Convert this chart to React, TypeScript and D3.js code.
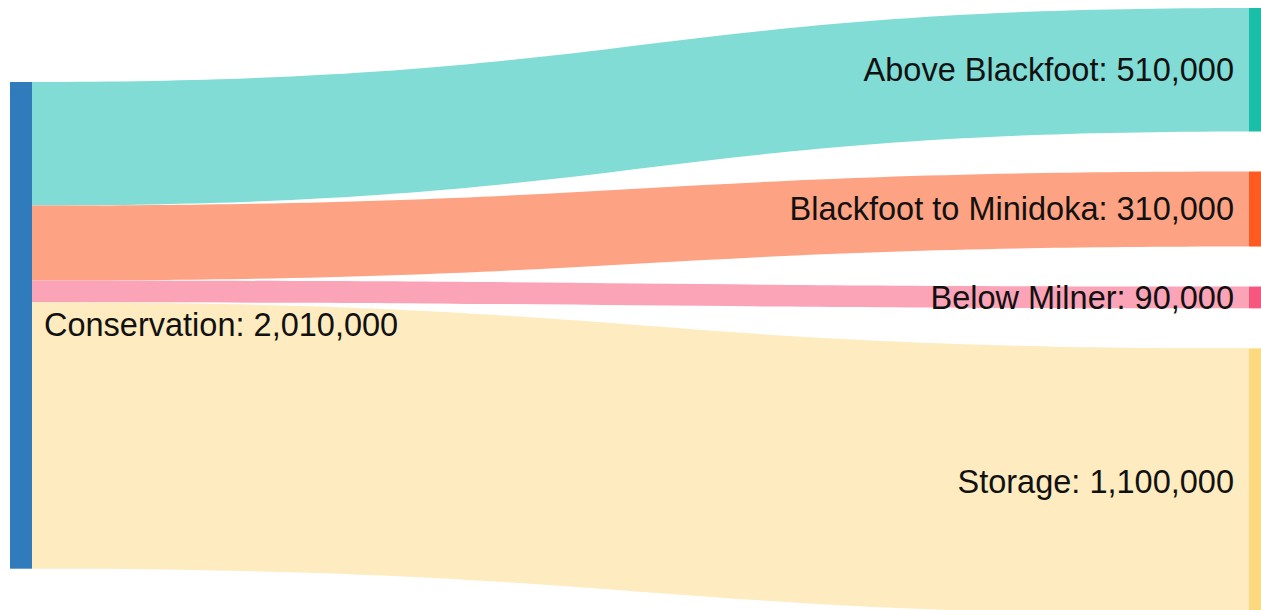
import React from "react";
import * as d3 from "d3";

const sourceName = "Conservation";
const targetNames = ["Above Blackfoot", "Blackfoot to Minidoka", "Below Milner", "Storage"];
const flowValues = [510000, 310000, 90000, 1100000];
const linkColors = ["#80dcd5", "#fda282", "#fba3b7", "#feebbf"];
const targetColors = ["#19bea9", "#ff5a1f", "#f7567f", "#fdd97e"];
const sourceColor = "#2f7bbb";

const W = 1261;
const H = 610;

export default function App() {
  const total = d3.sum(flowValues);
  const nodeW = 22;
  const gap = 40;
  const srcX = 10;
  const tgtX = 1249;
  const srcTop = 82;
  const tgtTop = 8;
  const k = d3.scaleLinear().domain([0, total]).range([0, 486.7]);
  const fmt = d3.format(",");

  const srcY = d3.cumsum([0, ...flowValues]).map((v) => srcTop + k(v));
  const tgt = flowValues.map((v, i) => {
    const before = d3.sum(flowValues.slice(0, i));
    const y0 = tgtTop + k(before) + i * gap;
    return { y0, y1: y0 + k(v) };
  });

  const x0 = srcX + nodeW;
  const x1 = tgtX;
  const xm = d3.interpolateNumber(x0, x1)(0.5);

  const links = flowValues.map((v, i) => {
    const p = d3.path();
    const sy0 = srcY[i];
    const sy1 = srcY[i + 1];
    const ty0 = tgt[i].y0;
    const ty1 = tgt[i].y1;
    p.moveTo(x0, sy0);
    p.bezierCurveTo(xm, sy0, xm, ty0, x1, ty0);
    p.lineTo(x1, ty1);
    p.bezierCurveTo(xm, ty1, xm, sy1, x0, sy1);
    p.closePath();
    return p.toString();
  });

  const font = "'Liberation Sans', Arial, sans-serif";
  const fs = 32.5;
  const srcMid = (srcY[0] + srcY[srcY.length - 1]) / 2;

  return (
    <div style={{ position: "fixed", left: 0, top: 0, width: W, height: H, background: "#fff" }}>
      <svg width={W} height={H} style={{ display: "block" }}>
        <rect x={0} y={0} width={W} height={H} fill="#fff" />
        {links.map((d, i) => (
          <path key={i} d={d} fill={linkColors[i]} />
        ))}
        <rect x={srcX} y={srcY[0]} width={nodeW} height={srcY[srcY.length - 1] - srcY[0]} fill={sourceColor} />
        {tgt.map((t, i) => (
          <rect key={i} x={tgtX} y={t.y0} width={nodeW} height={t.y1 - t.y0} fill={targetColors[i]} />
        ))}
        <text x={x0 + 12} y={srcMid} dy="0.34em" fontFamily={font} fontSize={fs} fill="#111">
          {`${sourceName}: ${fmt(total)}`}
        </text>
        {tgt.map((t, i) => (
          <text
            key={i}
            x={tgtX - 15}
            y={(t.y0 + t.y1) / 2}
            dy="0.34em"
            textAnchor="end"
            fontFamily={font}
            fontSize={fs}
            fill="#111"
          >
            {`${targetNames[i]}: ${fmt(flowValues[i])}`}
          </text>
        ))}
      </svg>
    </div>
  );
}
